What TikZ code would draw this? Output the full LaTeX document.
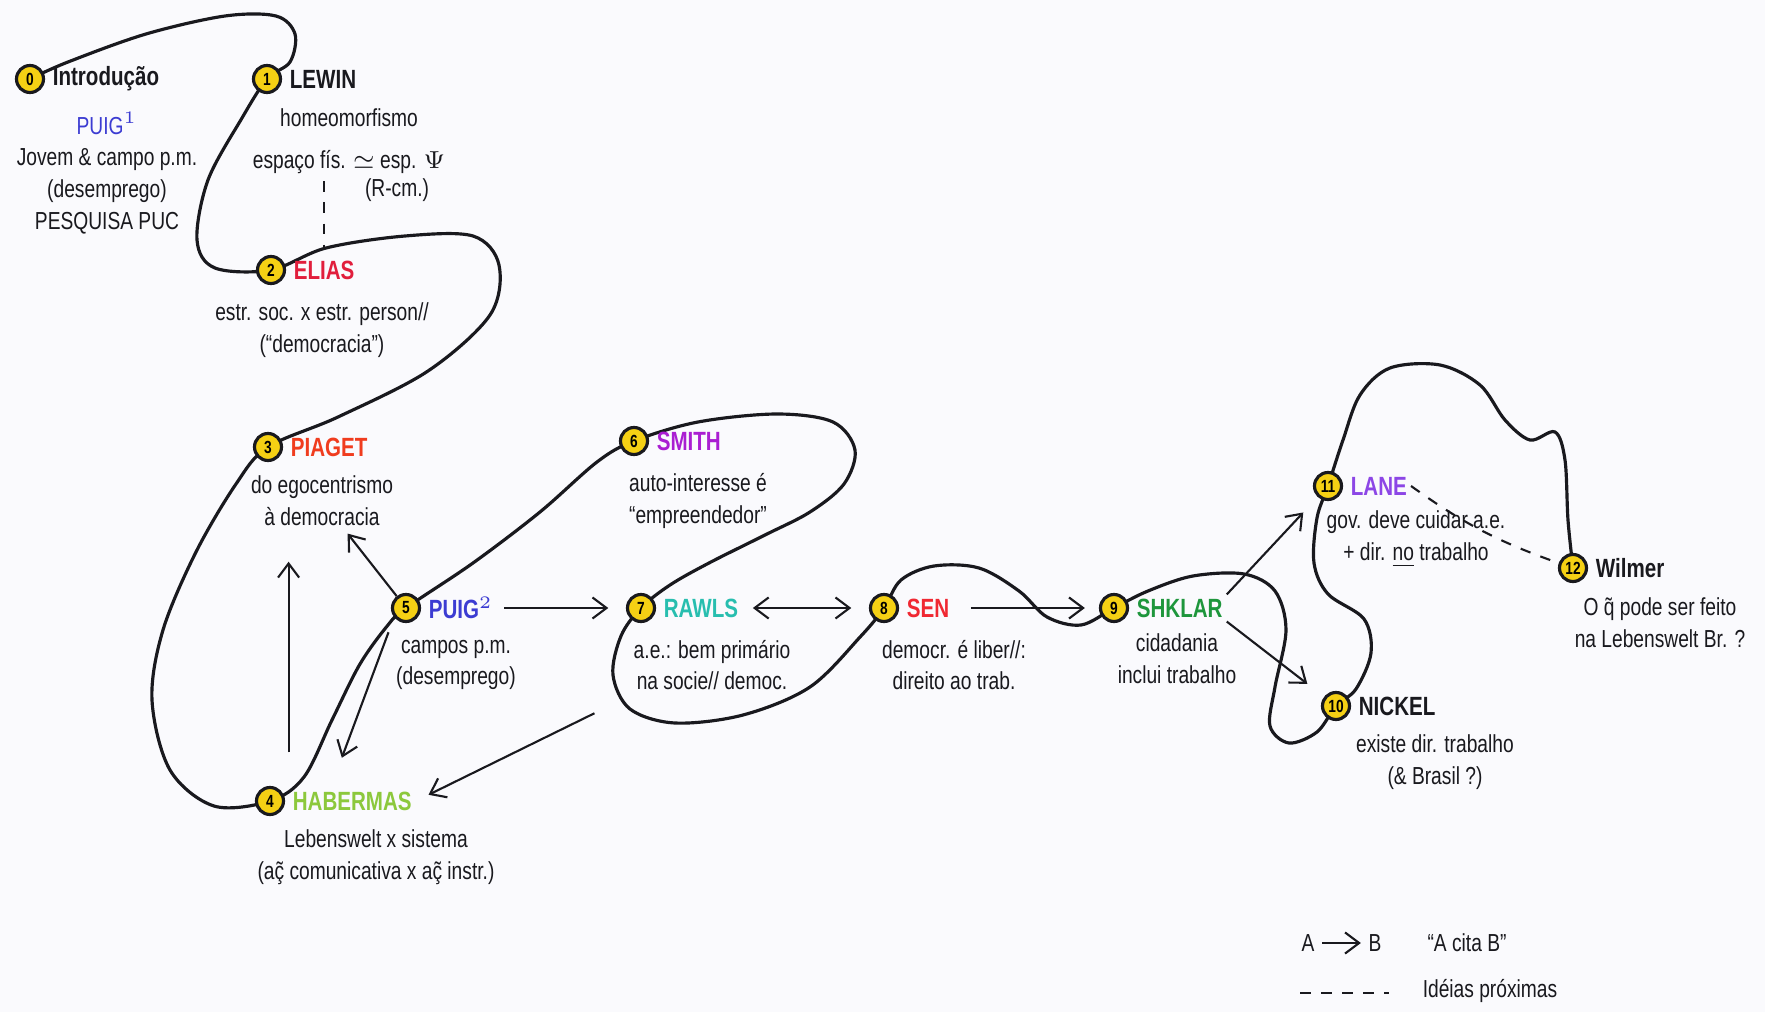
\documentclass[tikz,border=0pt]{standalone}
\usepackage{fontspec}
\setmainfont{Liberation Sans}[FakeStretch=0.78]
\usetikzlibrary{positioning, backgrounds, arrows.meta}

\definecolor{ink}{RGB}{25,25,30}
\definecolor{paper}{RGB}{250,250,253}
\definecolor{coinyellow}{RGB}{245,208,20}
\definecolor{puigblue}{RGB}{60,60,210}
\definecolor{eliasred}{RGB}{225,30,60}
\definecolor{piagetred}{RGB}{240,60,30}
\definecolor{habgreen}{RGB}{140,200,60}
\definecolor{smithpurple}{RGB}{170,30,210}
\definecolor{rawlsteal}{RGB}{40,190,175}
\definecolor{senred}{RGB}{240,40,50}
\definecolor{shklargreen}{RGB}{30,150,60}
\definecolor{lanepurple}{RGB}{140,70,230}

\begin{document}
\begin{tikzpicture}[x=0.01cm, y=-0.01cm,
	coin/.style={circle, draw=ink, line width=0.9pt, fill=coinyellow, inner sep=0pt,
		minimum size=0.27cm, font=\fontsize{5}{5}\selectfont\bfseries},
	ttl/.style={inner sep=1pt, font=\fontsize{7.5}{8}\selectfont\bfseries},
	desc/.style={align=center, inner sep=2pt, text=ink, font=\fontsize{7}{9}\selectfont},
	trail/.style={draw=ink, line width=0.9pt},
	citarrow/.style={->, draw=ink, line width=0.6pt},
	idea/.style={dashed, draw=ink, line width=0.6pt},
	>={Straight Barb[length=4pt, width=6pt]}]
	\useasboundingbox (0,0) rectangle (1765,1012);

	% os autores, na ordem do trajeto
	\node[coin] (c0) at (30,79) {0};
	\node[coin] (c1) at (267,79) {1};
	\node[coin] (c2) at (271,270) {2};
	\node[coin] (c3) at (268,447) {3};
	\node[coin] (c4) at (270,801) {4};
	\node[coin] (c5) at (406,608) {5};
	\node[coin] (c6) at (634,441) {6};
	\node[coin] (c7) at (641,608) {7};
	\node[coin] (c8) at (884,608) {8};
	\node[coin] (c9) at (1114,608) {9};
	\node[coin] (c10) at (1336,706) {10};
	\node[coin] (c11) at (1328,486) {11};
	\node[coin] (c12) at (1573,568) {12};

	\node[ttl, text=ink, right=1pt of c0] (t0) {Introdução};
	\node[ttl, text=ink, right=1pt of c1] (t1) {LEWIN};
	\node[ttl, text=eliasred, right=1pt of c2] (t2) {ELIAS};
	\node[ttl, text=piagetred, right=1pt of c3] (t3) {PIAGET};
	\node[ttl, text=habgreen, right=1pt of c4] (t4) {HABERMAS};
	\node[ttl, text=puigblue, right=1pt of c5] (t5) {PUIG$^2$};
	\node[ttl, text=smithpurple, right=1pt of c6] (t6) {SMITH};
	\node[ttl, text=rawlsteal, right=1pt of c7] (t7) {RAWLS};
	\node[ttl, text=senred, right=1pt of c8] (t8) {SEN};
	\node[ttl, text=shklargreen, right=1pt of c9] (t9) {SHKLAR};
	\node[ttl, text=ink, right=1pt of c10] (t10) {NICKEL};
	\node[ttl, text=lanepurple, right=1pt of c11] (t11) {LANE};
	\node[ttl, text=ink, right=1pt of c12] (t12) {Wilmer};

	\node[desc] (d0) at (107,173) {{\color{puigblue}PUIG$^1$}\\Jovem \& campo p.m.\\(desemprego)\\PESQUISA PUC};
	\node[desc] (d1) at (349,141) {homeomorfismo\\[3pt]espaço fís. $\simeq$ esp. $\Psi$};
	\node[desc] (r1) at (397,190) {(R-cm.)};
	\node[desc] (d2) at (322,330) {estr. soc. x estr. person//\\(“democracia”)};
	\node[desc] (d3) at (322,501) {do egocentrismo\\à democracia};
	\node[desc] (d4) at (376,857) {Lebenswelt x sistema\\(a\~{ç} comunicativa x a\~{ç} instr.)};
	\node[desc] (d5) at (456,665) {campos p.m.\\(desemprego)};
	\node[desc] (d6) at (698,501) {auto-interesse é\\“empreendedor”};
	\node[desc] (d7) at (712,665) {a.e.: bem primário\\na socie// democ.};
	\node[desc] (d8) at (954,665) {democr. é liber//:\\direito ao trab.};
	\node[desc] (d9) at (1177,659) {cidadania\\inclui trabalho};
	\node[desc] (d10) at (1435,762) {existe dir. trabalho\\(\& Brasil ?)};
	\node[desc] (d11) at (1416,539) {gov. deve cuidar a.e.\\+ dir. \underline{no} trabalho};
	\node[desc] (d12) at (1660,623) {O \~{q} pode ser feito\\na Lebenswelt Br. ?};

	% citacoes
	\draw[citarrow] (c5) -- (d3);
	\draw[citarrow, shorten <=10pt, shorten >=8pt] (t4.north west) -- (t4.north west |- d3.south);
	\draw[citarrow, shorten >=9pt] (d5.north west) -- ([xshift=12pt]t4.north west);
	\draw[citarrow, shorten <=10pt, shorten >=4pt] (d7.south west) -- (t4.east);
	\draw[citarrow, shorten <=2pt, shorten >=5pt] (t5) -- (c7);
	\draw[citarrow, <->, shorten <=3pt, shorten >=5pt] (t7) -- (c8);
	\draw[citarrow, shorten <=5pt, shorten >=4pt] (t8) -- (c9);
	\draw[citarrow, shorten >=6pt] (t9.north east) -- (c11);
	\draw[citarrow, shorten >=6pt] (t9.south east) -- (c10);

	% ideias proximas
	\draw[idea] (t11.east) to[bend right=8] (c12);
	\draw[idea, shorten >=2pt] (d1.south -| t2.north) -- (t2.north);

	% legenda
	\node[desc] (la) at (1308,943) {A};
	\node[desc] (lb) at (1375,943) {B};
	\draw[citarrow] (la) -- (lb);
	\node[desc] (lcita) at (1467,943) {“A cita B”};
	\coordinate (ldash) at (1300,993);
	\node[desc] (lprox) at (1490,991) {Idéias próximas};
	\draw[idea] (ldash) -- (ldash -| lb.east);

	\begin{scope}[on background layer]
		\fill[paper] (0,0) rectangle (1765,1012);
		\draw[trail] plot[smooth, tension=0.55] coordinates {
			(c0.center) (68,62) (146,34) (225,16) (276,16) (295,34) (290,62) (c1.center)
			(242,118) (208,180) (197,240) (215,268) (c2.center)
			(326,248) (405,236) (473,236) (499,265) (490,315) (428,371) (338,417) (c3.center)
			(236,484) (196,552) (163,630) (152,700) (170,770) (214,806) (c4.center)
			(304,777) (332,720) (360,664) (388,625) (c5.center)
			(473,563) (540,512) (597,462) (c6.center)
			(698,422) (777,414) (833,422) (855,450) (844,484) (810,512) (765,535) (709,563) (670,585) (c7.center)
			(621,636) (613,675) (630,709) (675,723) (743,715) (810,687) (861,636) (c8.center)
			(901,580) (934,566) (979,568) (1019,591) (1047,617) (1081,625) (c9.center)
			(1148,591) (1193,576) (1244,574) (1275,591) (1286,630) (1275,687) (1270,726) (1289,743) (1317,732) (c10.center)
			(1356,689) (1371,653) (1364,619) (1328,594) (1314,563) (1317,518) (c11.center)
			(1343,440) (1360,395) (1390,368) (1440,365) (1480,385) (1505,420) (1530,440) (1555,432) (1565,460) (1568,520) (c12.center)};
	\end{scope}
\end{tikzpicture}
\end{document}
